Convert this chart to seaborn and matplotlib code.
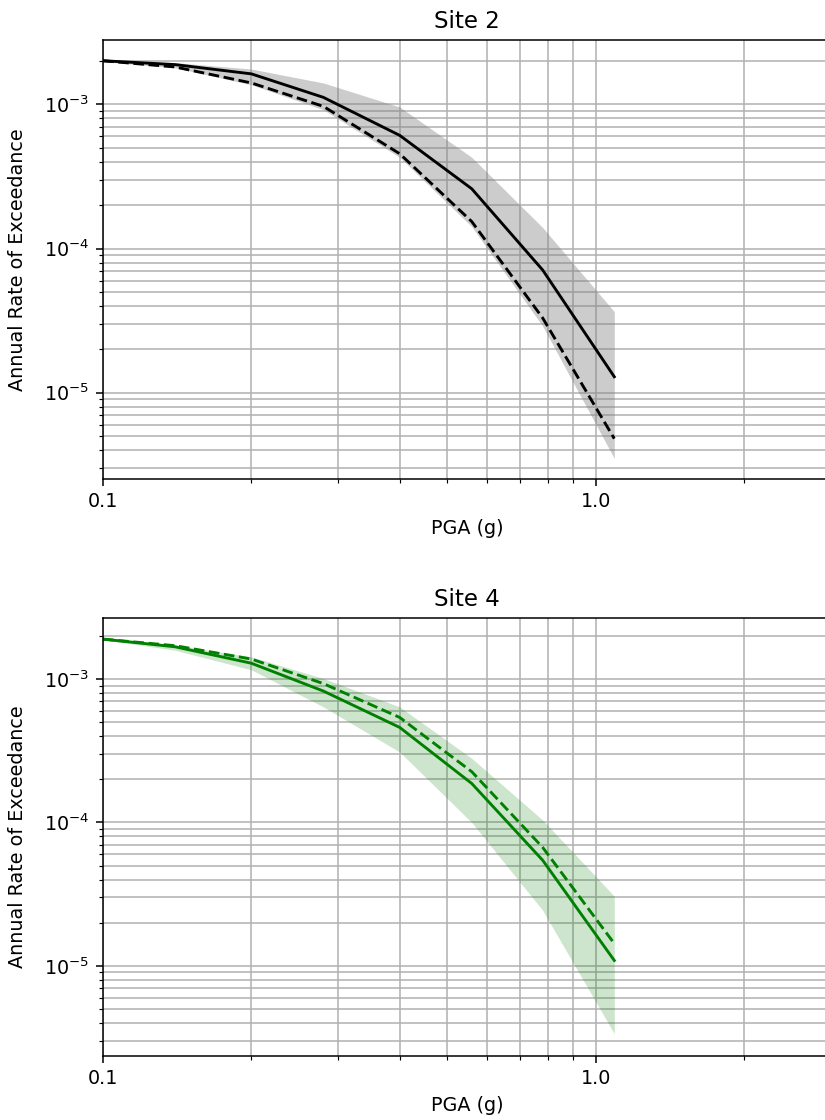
import numpy as np
import pandas as pd
import matplotlib
matplotlib.use("Agg")
import matplotlib.pyplot as plt
from matplotlib.ticker import FuncFormatter, NullFormatter
import seaborn as sns

# Peak ground acceleration levels (g)
pga = [0.1, 0.14, 0.2, 0.28, 0.4, 0.56, 0.78, 1.09]

# Site 2 hazard curves: mean, median and fractile band
site2_mean = [2.01e-3, 1.89e-3, 1.63e-3, 1.12e-3, 6.1e-4, 2.6e-4, 7.1e-5, 1.29e-5]
site2_median = [2.01e-3, 1.82e-3, 1.41e-3, 9.7e-4, 4.55e-4, 1.54e-4, 3.3e-5, 4.8e-6]
site2_upper = [2.03e-3, 1.95e-3, 1.76e-3, 1.41e-3, 9.6e-4, 4.3e-4, 1.4e-4, 3.65e-5]
site2_lower = [1.98e-3, 1.80e-3, 1.37e-3, 9.2e-4, 4.3e-4, 1.42e-4, 2.9e-5, 3.5e-6]

# Site 4 hazard curves
site4_mean = [1.90e-3, 1.68e-3, 1.29e-3, 8.25e-4, 4.6e-4, 1.87e-4, 5.45e-5, 1.09e-5]
site4_median = [1.90e-3, 1.71e-3, 1.38e-3, 9.3e-4, 5.4e-4, 2.26e-4, 6.7e-5, 1.43e-5]
site4_upper = [1.92e-3, 1.73e-3, 1.43e-3, 1.01e-3, 6.4e-4, 2.8e-4, 1.04e-4, 3.06e-5]
site4_lower = [1.88e-3, 1.59e-3, 1.16e-3, 6.4e-4, 3.1e-4, 1.0e-4, 2.44e-5, 3.36e-6]

sites = [
    ("Site 2", site2_mean, site2_median, site2_upper, site2_lower,
     "black", "gray", 0.4, (2.8e-3, 2.52e-6)),
    ("Site 4", site4_mean, site4_median, site4_upper, site4_lower,
     "green", "green", 0.2, (2.68e-3, 2.35e-6)),
]

DPI = 138
fig = plt.figure(figsize=(825 / DPI, 1120 / DPI), dpi=DPI)
W, H = 825.0, 1120.0
boxes = [(103, 40, 831, 479), (103, 617.7, 831, 1056)]

for (title, mean, median, upper, lower, lc, fc, fa, ylim), (x0, y0, x1, y1) in zip(sites, boxes):
    ax = fig.add_axes([x0 / W, 1 - y1 / H, (x1 - x0) / W, (y1 - y0) / H])
    ax.set_xscale("log")
    ax.set_yscale("log")

    df = pd.DataFrame({"pga": pga, "mean": mean, "median": median,
                       "upper": upper, "lower": lower})
    ax.fill_between(df["pga"], df["lower"], df["upper"], color=fc, alpha=fa,
                    linewidth=0)
    sns.lineplot(data=df, x="pga", y="mean", color=lc, linestyle="-",
                 linewidth=1.5, ax=ax, legend=False)
    sns.lineplot(data=df, x="pga", y="median", color=lc, linestyle="--",
                 linewidth=1.5, ax=ax, legend=False)

    ax.set_xlim(0.1, 3.0)
    ax.set_ylim(ylim[1], ylim[0])
    ax.xaxis.set_major_formatter(FuncFormatter(lambda v, _: f"{v:.1f}"))
    ax.xaxis.set_minor_formatter(NullFormatter())
    ax.grid(True, which="both", color="#b0b0b0", linewidth=0.8)
    ax.set_axisbelow(True)
    ax.spines["right"].set_visible(False)
    ax.set_title(title)
    ax.set_xlabel("PGA (g)")
    ax.set_ylabel("Annual Rate of Exceedance")
    ax.yaxis.set_label_coords(-0.104, 0.5)

fig.savefig("out.png", dpi=DPI)
